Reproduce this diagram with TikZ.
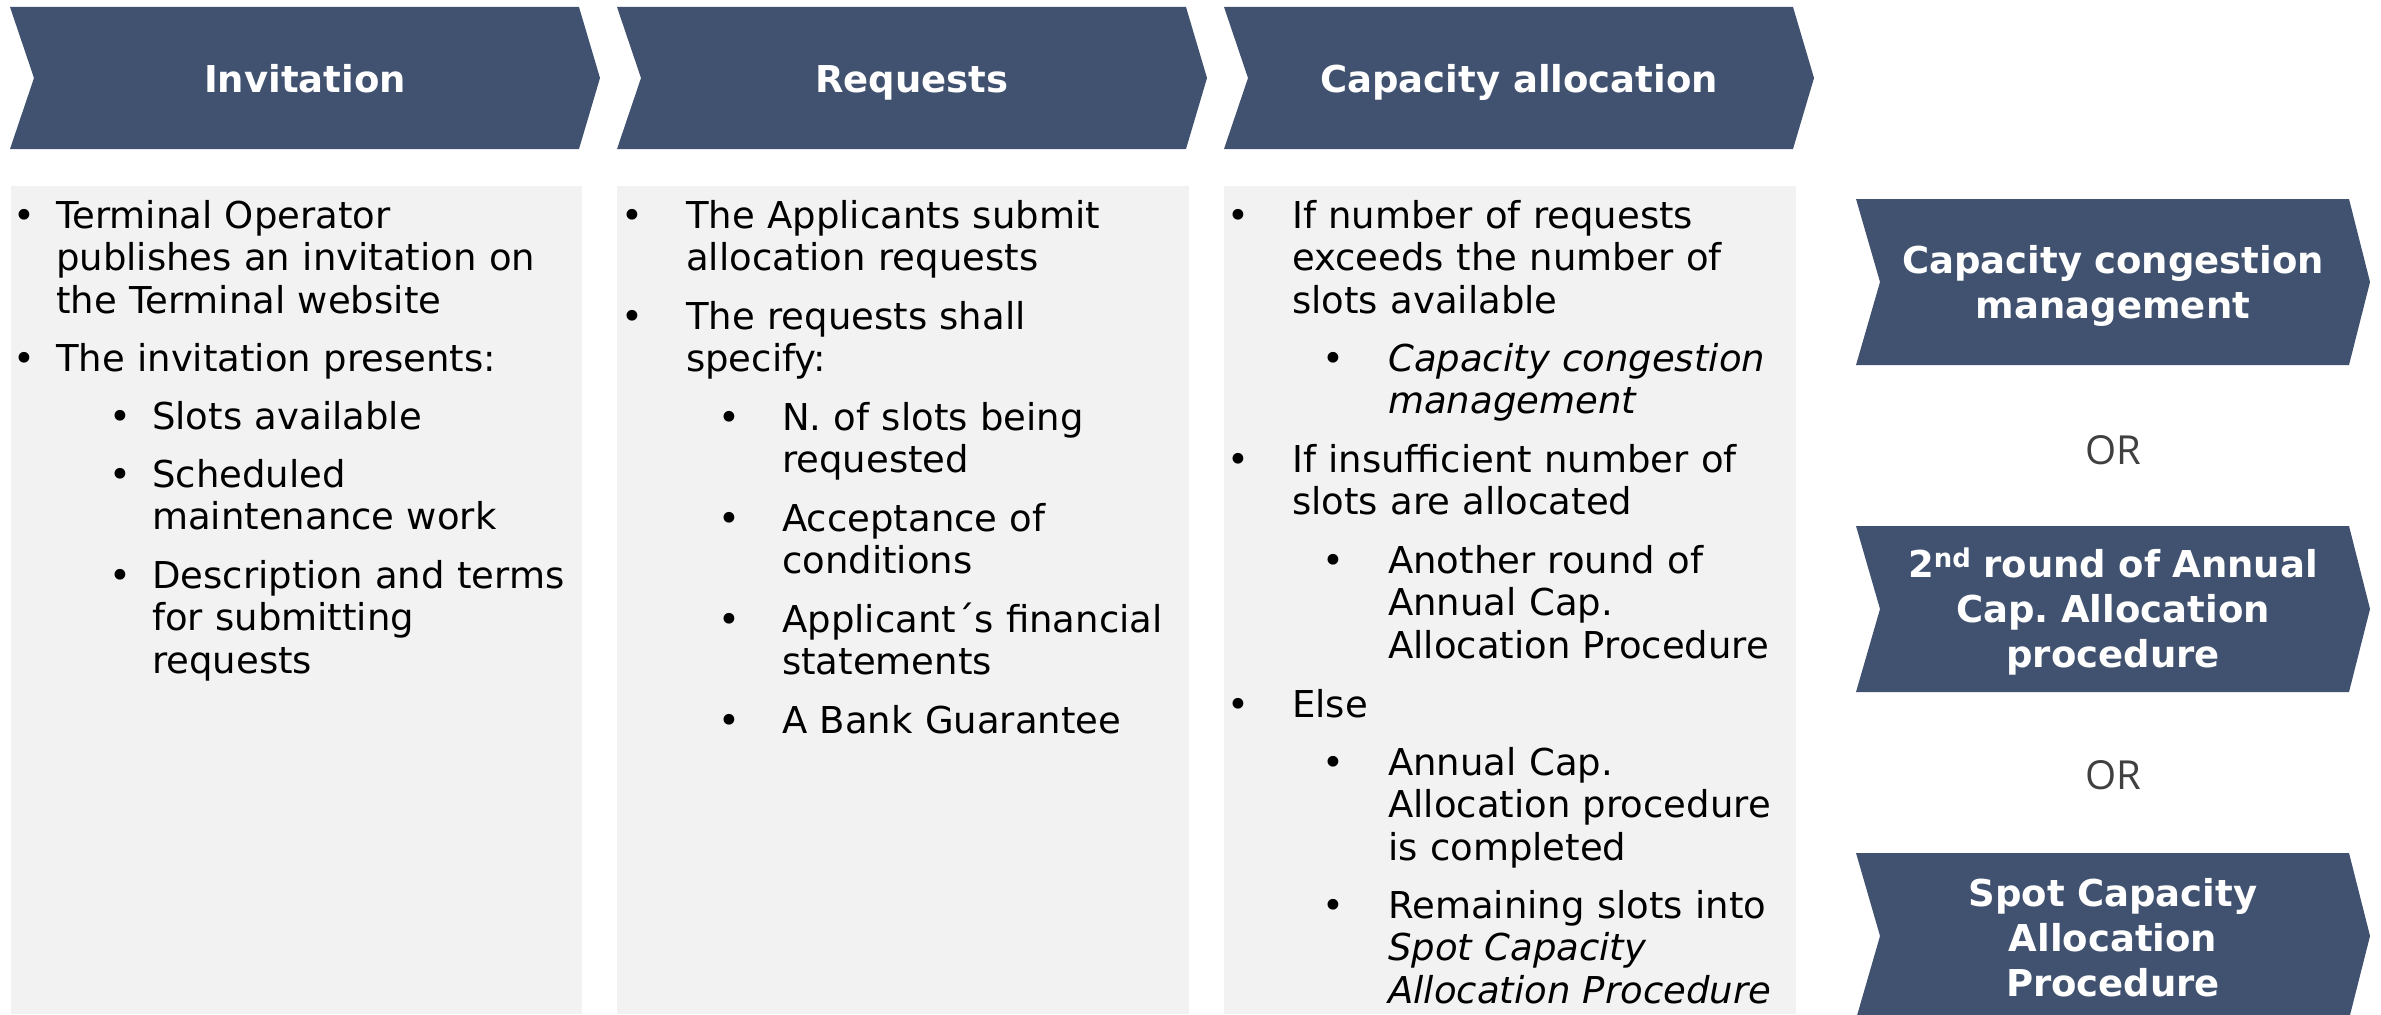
\documentclass[tikz,border=0pt]{standalone}
\usepackage{fontspec}
\setmainfont{DejaVu Sans}
\newfontfamily\orfont{Open Sans}
\frenchspacing
\definecolor{navy}{RGB}{65,82,112}
\definecolor{panel}{RGB}{242,242,242}
\definecolor{orgray}{RGB}{64,64,64}
\newcommand\chevshape[4]{% left, tip, top, bottom
  \fill[navy] (#1,#3) -- ({#2-21},#3) -- (#2,{(#3+#4)/2}) -- ({#2-21},#4) -- (#1,#4) -- ({#1+24},{(#3+#4)/2}) -- cycle;}
\newcommand\bul[1]{\llap{\makebox[#1pt][c]{•}}}
\tikzset{
  head/.style={anchor=base, inner sep=0pt, text=white, font=\bfseries\fontsize{37}{44}\selectfont},
  side/.style={anchor=base, inner sep=0pt, text=white, text width=480pt, align=center, font=\bfseries\fontsize{37}{45}\selectfont},
  item/.style={anchor=base west, inner sep=0pt, text width=560pt, align=left, font=\fontsize{37}{42.5}\selectfont},
  ortext/.style={anchor=center, inner sep=0pt, text=orgray, font=\orfont\fontsize{40}{48}\selectfont}
}
\begin{document}
\begin{tikzpicture}[x=1pt,y=-1pt]
\useasboundingbox (0,0) rectangle (2381,1014);
\clip (0,0) rectangle (2381,1014);
% header chevrons
\chevshape{10}{600}{7}{149}
\chevshape{617}{1207}{7}{149}
\chevshape{1224}{1814}{7}{149}
\node[head] (hinv) at (305,93) {Invitation};
\node[head] (hreq) at (912,93) {Requests};
\node[head] (hcap) at (1519,93) {Capacity allocation};
% panels
\fill[panel] (11,186) rectangle (582,1014);
\fill[panel] (617,186) rectangle (1189,1014);
\fill[panel] (1224,186) rectangle (1796,1014);
% column 1
\node[item] (a1) at (56,228) {\bul{64}Terminal Operator\\publishes an invitation on\\the Terminal website};
\node[item] (a2) at (56,371) {\bul{64}The invitation presents:};
\node[item] (a3) at (152,429) {\bul{64}Slots available};
\node[item] (a4) at (152,487) {\bul{64}Scheduled\\maintenance work};
\node[item] (a5) at (152,588) {\bul{64}Description and terms\\for submitting\\requests};
% column 2
\node[item] (b1) at (686,228) {\bul{108}The Applicants submit\\allocation requests};
\node[item] (b2) at (686,329) {\bul{108}The requests shall\\specify:};
\node[item] (b3) at (782,430) {\bul{106}N. of slots being\\requested};
\node[item] (b4) at (782,531) {\bul{106}Acceptance of\\conditions};
\node[item] (b5) at (782,632) {\bul{106}Applicant´s financial\\statements};
\node[item] (b6) at (782,733) {\bul{106}A Bank Guarantee};
% column 3
\node[item] (c1) at (1292,228) {\bul{108}If number of requests\\exceeds the number of\\slots available};
\node[item] (c2) at (1388,371) {\bul{110}\textit{Capacity congestion}\\\textit{management}};
\node[item] (c3) at (1292,472) {\bul{108}If insufficient number of\\slots are allocated};
\node[item] (c4) at (1388,573) {\bul{110}Another round of\\Annual Cap.\\Allocation Procedure};
\node[item] (c5) at (1292,717) {\bul{108}Else};
\node[item] (c6) at (1388,775) {\bul{110}Annual Cap.\\Allocation procedure\\is completed};
\node[item] (c7) at (1388,918) {\bul{110}Remaining slots into\\\textit{Spot Capacity}\\\textit{Allocation Procedure}};
% right chevrons
\chevshape{1856}{2370}{199}{365}
\chevshape{1856}{2370}{526}{692}
\chevshape{1856}{2370}{853}{1019}
\node[side] (r1) at (2113,273) {Capacity congestion\\management};
\node[side] (r2) at (2113,577) {2\textsuperscript{nd} round of Annual\\Cap. Allocation\\procedure};
\node[side] (r3) at (2113,906) {Spot Capacity\\Allocation\\Procedure};
\node[ortext] (or1) at (2113,450) {OR};
\node[ortext] (or2) at (2113,775) {OR};
\end{tikzpicture}
\end{document}
